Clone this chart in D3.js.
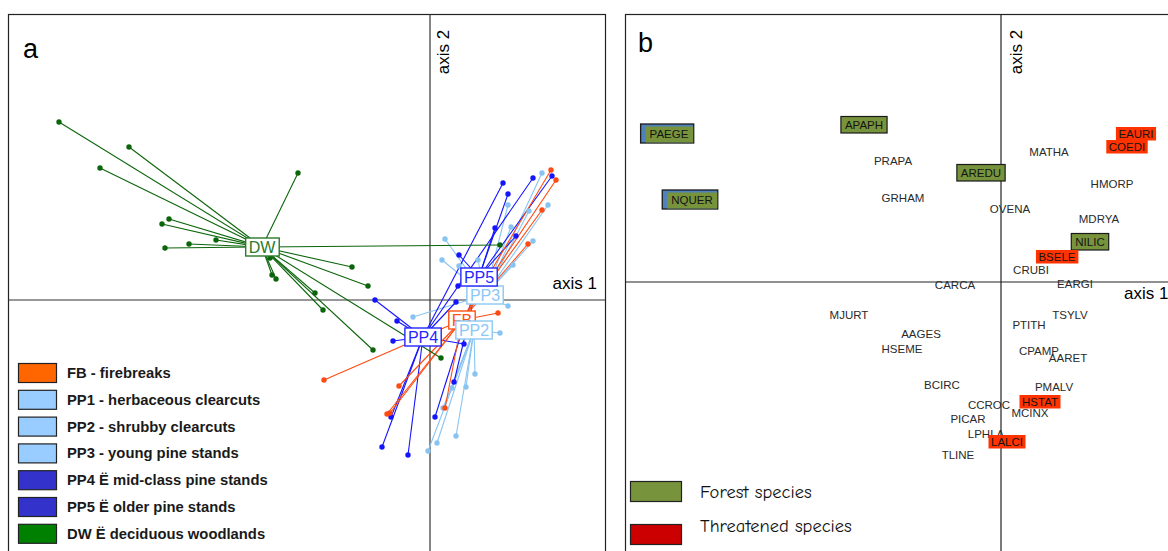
<!DOCTYPE html>
<html>
<head>
<meta charset="utf-8">
<script src="https://cdn.jsdelivr.net/npm/d3@7"></script>
<style>
  body { margin: 0; background: #fff; }
  svg { display: block; }
</style>
</head>
<body>
<svg id="chart"></svg>
<script>
const W = 1168;
const H = 551;

// ---- panel a: site scores (axis 1, axis 2) and group centroids ----
const groupNames = ["PP2", "PP3", "PP4", "PP5", "FB", "DW"];
const groupCentroidX = [0.44, 0.55, -0.07, 0.49, 0.32, -1.68];
const groupCentroidY = [-0.30, 0.05, -0.37, 0.23, -0.20, 0.53];

const pp2Sites = [[0.70, -0.33], [0.45, -0.74], [0.36, -0.87], [0.22, -0.88], [0.26, -1.36],
  [0.07, -1.43], [-0.02, -1.51], [0.13, -1.08]];
const pp3Sites = [[1.12, 1.27], [1.18, 0.95], [0.78, 0.95], [0.99, 0.89], [0.81, 0.73],
  [1.03, 0.59], [0.15, 0.61], [0.12, 0.40], [0.48, 0.40], [0.29, 0.34], [0.83, 0.35],
  [-0.17, -0.17], [0.78, -0.06]];
const pp4Sites = [[0.73, 1.17], [1.03, 1.22], [-0.55, 0.00], [-0.33, -0.21], [-0.37, -0.41],
  [0.34, -0.44], [-0.39, -1.17], [-0.48, -1.47], [-0.22, -1.55], [0.26, -0.02]];
const pp5Sites = [[1.22, 1.24], [0.78, 1.06], [0.65, 0.72], [0.86, 0.64], [0.29, 0.45],
  [0.28, 0.14], [0.05, -1.17], [0.24, -0.82]];
const fbSites = [[1.21, 1.30], [1.26, 1.20], [1.12, 0.90], [0.98, 0.56], [0.68, -0.13],
  [-0.31, -0.86], [-0.43, -1.14], [-0.40, -1.13], [0.15, -1.08], [-1.06, -0.80]];
const dwSites = [[-3.71, 1.78], [-3.01, 1.53], [-3.30, 1.32], [-1.32, 1.27], [-2.61, 0.81],
  [-2.68, 0.76], [-2.41, 0.56], [-2.14, 0.60], [-2.65, 0.52], [-0.78, 0.33], [-0.62, 0.14],
  [-1.60, 0.42], [-1.58, 0.25], [-1.54, 0.21], [-1.15, 0.07], [-1.07, -0.10], [-0.57, -0.50],
  [0.11, -0.58], [0.70, 0.55]];
const groupSites = [pp2Sites, pp3Sites, pp4Sites, pp5Sites, fbSites, dwSites];

const groupLineColors = ["#88c4f2", "#88c4f2", "#1414ff", "#1414ff", "#ff4a12", "#0b650b"];
const groupLabelColors = ["#8cc8f6", "#8cc8f6", "#2626ff", "#2626ff", "#ff5216", "#2a7a2a"];
// order in which the centroid boxes are stacked
const boxOrder = ["DW", "PP3", "PP5", "FB", "PP2", "PP4"];

const legendALabels = ["FB - firebreaks", "PP1 - herbaceous clearcuts", "PP2 - shrubby clearcuts",
  "PP3 - young pine stands", "PP4 Ë mid-class pine stands", "PP5 Ë older pine stands",
  "DW Ë deciduous woodlands"];
const legendAColors = ["#ff6600", "#99ccff", "#99ccff", "#99ccff", "#3333cc", "#3333cc", "#008000"];

// ---- panel b: species scores ----
const speciesCodes = ["PAEGE", "NQUER", "APAPH", "PRAPA", "AREDU", "GRHAM", "OVENA", "MATHA",
  "EAURI", "COEDI", "HMORP", "MDRYA", "NILIC", "BSELE", "CRUBI", "EARGI", "CARCA", "MJURT",
  "TSYLV", "PTITH", "AAGES", "HSEME", "CPAMP", "AARET", "BCIRC", "PMALV", "HSTAT", "CCROC",
  "MCINX", "PICAR", "LPHLA", "LALCI", "TLINE"];
const speciesX = [-3.32, -3.09, -1.37, -1.08, -0.20, -0.98, 0.09, 0.48,
  1.35, 1.26, 1.11, 0.98, 0.89, 0.56, 0.30, 0.74, -0.46, -1.52,
  0.69, 0.28, -0.80, -0.99, 0.38, 0.67, -0.59, 0.53, 0.39, -0.12,
  0.29, -0.33, -0.15, 0.06, -0.43];
const speciesY = [1.48, 0.82, 1.57, 1.21, 1.09, 0.84, 0.73, 1.30,
  1.48, 1.35, 0.98, 0.63, 0.40, 0.25, 0.12, -0.02, -0.03, -0.33,
  -0.33, -0.43, -0.52, -0.67, -0.69, -0.76, -1.03, -1.05, -1.20, -1.23,
  -1.31, -1.37, -1.52, -1.60, -1.73];
// "" plain, "forest", "forestBlue" (forest box over blue), "threatened"
const speciesStatus = ["forestBlue", "forestBlue", "forest", "", "forest", "", "", "",
  "threatened", "threatened", "", "", "forest", "threatened", "", "", "", "",
  "", "", "", "", "", "", "", "", "threatened", "",
  "", "", "", "threatened", ""];

const legendBLabels = ["Forest species", "Threatened species"];
const legendBColors = ["#77933c", "#cc0000"];

const svg = d3.select("#chart").attr("width", W).attr("height", H);

// ================= panel a =================
const xa = d3.scaleLinear().domain([-4.22, 1.75]).range([8, 605]);
const ya = d3.scaleLinear().domain([2.86, -2.51]).range([14, 551]);

const pa = svg.append("g");
pa.append("rect")
  .attr("x", 8.5).attr("y", 14.5).attr("width", 597).attr("height", 560)
  .attr("fill", "none").attr("stroke", "#222").attr("stroke-width", 1.2);

pa.append("line")
  .attr("x1", 8).attr("x2", 605).attr("y1", ya(0)).attr("y2", ya(0))
  .attr("stroke", "#333").attr("stroke-width", 1.2);
pa.append("line")
  .attr("x1", xa(0)).attr("x2", xa(0)).attr("y1", 14).attr("y2", H)
  .attr("stroke", "#333").attr("stroke-width", 1.2);

pa.append("text").attr("x", 23).attr("y", 58)
  .attr("font-family", "Liberation Sans, Arial, sans-serif").attr("font-size", 27).text("a");
pa.append("text")
  .attr("transform", `translate(${xa(0) + 19},52) rotate(-90)`)
  .attr("text-anchor", "middle")
  .attr("font-family", "Liberation Sans, Arial, sans-serif").attr("font-size", 17)
  .text("axis 2");
pa.append("text").attr("x", 597).attr("y", 289).attr("text-anchor", "end")
  .attr("font-family", "Liberation Sans, Arial, sans-serif").attr("font-size", 17)
  .text("axis 1");

// spider lines
groupNames.forEach((g, i) => {
  const cx = xa(groupCentroidX[i]), cy = ya(groupCentroidY[i]);
  pa.append("g").selectAll("line")
    .data(groupSites[i])
    .join("line")
    .attr("x1", cx).attr("y1", cy)
    .attr("x2", d => xa(d[0])).attr("y2", d => ya(d[1]))
    .attr("stroke", groupLineColors[i]).attr("stroke-width", 1.1);
});
groupNames.forEach((g, i) => {
  pa.append("g").selectAll("circle")
    .data(groupSites[i])
    .join("circle")
    .attr("cx", d => xa(d[0])).attr("cy", d => ya(d[1]))
    .attr("r", 2.7)
    .attr("fill", groupLineColors[i]);
});

// centroid label boxes
boxOrder.forEach(name => {
  const i = groupNames.indexOf(name);
  const cx = xa(groupCentroidX[i]), cy = ya(groupCentroidY[i]);
  const lg = pa.append("g");
  const t = lg.append("text")
    .attr("x", cx).attr("y", cy + 6)
    .attr("text-anchor", "middle")
    .attr("font-family", "Liberation Sans, Arial, sans-serif").attr("font-size", 16)
    .attr("fill", groupLabelColors[i])
    .text(name);
  const bb = t.node().getBBox();
  lg.insert("rect", "text")
    .attr("x", bb.x - 3).attr("y", cy - 9)
    .attr("width", bb.width + 6).attr("height", 18)
    .attr("fill", "#fff").attr("stroke", groupLabelColors[i]).attr("stroke-width", 1.4);
});

// legend a
const legA = pa.append("g");
legendALabels.forEach((lab, i) => {
  const y0 = 363 + i * 26.8;
  legA.append("rect")
    .attr("x", 18.5).attr("y", y0 + 0.5).attr("width", 38).attr("height", 19)
    .attr("fill", legendAColors[i]).attr("stroke", "#222").attr("stroke-width", 1.2);
  legA.append("text")
    .attr("x", 67).attr("y", y0 + 15)
    .attr("font-family", "Liberation Sans, Arial, sans-serif").attr("font-size", 14.8)
    .attr("font-weight", "bold").attr("fill", "#1a1a1a")
    .text(lab);
});

// ================= panel b =================
const xb = d3.scaleLinear().domain([-3.76, 1.67]).range([625, 1168]);
const yb = d3.scaleLinear().domain([2.82, -2.69]).range([0, 551]);

const pb = svg.append("g");
pb.append("rect")
  .attr("x", 625.5).attr("y", 14.5).attr("width", 600).attr("height", 560)
  .attr("fill", "none").attr("stroke", "#222").attr("stroke-width", 1.2);
pb.append("line")
  .attr("x1", 625).attr("x2", W).attr("y1", yb(0)).attr("y2", yb(0))
  .attr("stroke", "#222").attr("stroke-width", 1.2);
pb.append("line")
  .attr("x1", xb(0)).attr("x2", xb(0)).attr("y1", 14).attr("y2", H)
  .attr("stroke", "#222").attr("stroke-width", 1.2);

pb.append("text").attr("x", 638).attr("y", 52)
  .attr("font-family", "Liberation Sans, Arial, sans-serif").attr("font-size", 27).text("b");
pb.append("text")
  .attr("transform", `translate(${xb(0) + 21},52) rotate(-90)`)
  .attr("text-anchor", "middle")
  .attr("font-family", "Liberation Sans, Arial, sans-serif").attr("font-size", 17)
  .text("axis 2");
pb.append("text").attr("x", 1124).attr("y", 299)
  .attr("font-family", "Liberation Sans, Arial, sans-serif").attr("font-size", 17)
  .text("axis 1");

const boxFill = { forest: "#77933c", forestBlue: "#77933c", threatened: "#ff3300" };

speciesCodes.forEach((code, i) => {
  const cx = xb(speciesX[i]), cy = yb(speciesY[i]);
  const st = speciesStatus[i];
  const lg = pb.append("g");
  const t = lg.append("text")
    .attr("x", cx).attr("y", cy + 4.2)
    .attr("text-anchor", "middle")
    .attr("font-family", "Liberation Sans, Arial, sans-serif").attr("font-size", 11.5)
    .attr("fill", st ? "#141414" : "#2a2a2a")
    .text(code);
  if (!st) return;
  const bb = t.node().getBBox();
  if (st === "threatened") {
    lg.insert("rect", "text")
      .attr("x", bb.x - 2.5).attr("y", cy - 7)
      .attr("width", bb.width + 5).attr("height", 13.5)
      .attr("fill", boxFill[st]);
  } else if (st === "forestBlue") {
    const bx = bb.x - 9, bw = bb.width + 14;
    lg.insert("rect", "text")
      .attr("x", bx).attr("y", cy - 10)
      .attr("width", bw).attr("height", 19)
      .attr("fill", "#4f81bd").attr("stroke", "#1a1a1a").attr("stroke-width", 1.3);
    lg.insert("rect", "text")
      .attr("x", bx + 5).attr("y", cy - 7.5)
      .attr("width", bw - 5.5).attr("height", 16)
      .attr("fill", boxFill[st]);
  } else {
    lg.insert("rect", "text")
      .attr("x", bb.x - 4).attr("y", cy - 8.5)
      .attr("width", bb.width + 8).attr("height", 16.5)
      .attr("fill", boxFill[st]).attr("stroke", "#1a1a1a").attr("stroke-width", 1.2);
  }
});

// legend b
legendBLabels.forEach((lab, i) => {
  const y0 = 481 + i * 43;
  pb.append("rect")
    .attr("x", 630.5).attr("y", y0 + 0.5).attr("width", 51).attr("height", 20)
    .attr("fill", legendBColors[i]).attr("stroke", "#222").attr("stroke-width", 1.2);
  pb.append("text")
    .attr("x", 700).attr("y", i === 0 ? 498 : 532)
    .attr("font-family", "'Comic Sans MS', 'Comic Neue', 'DejaVu Sans', sans-serif")
    .attr("font-size", 18.5).attr("fill", "#111")
    .text(lab);
});
</script>
</body>
</html>
